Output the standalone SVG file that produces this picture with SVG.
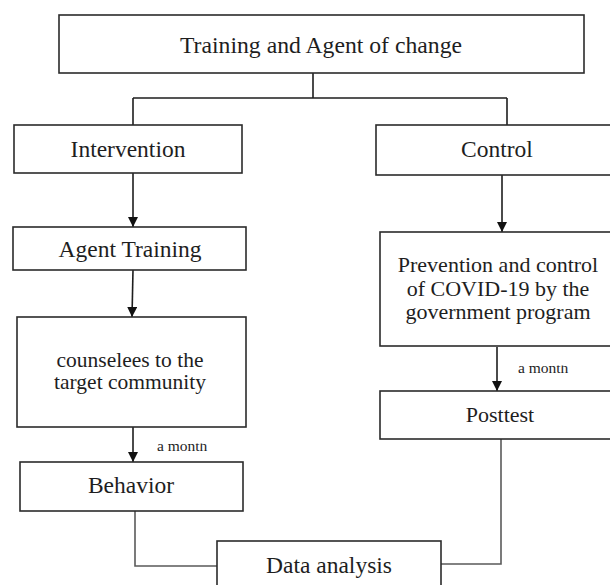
<svg xmlns="http://www.w3.org/2000/svg" width="610" height="585" viewBox="0 0 610 585">
<style>
  .box { fill: #ffffff; stroke: #2b2b2b; stroke-width: 1.6; }
  .t { font-family: "Liberation Serif", "Times New Roman", serif; fill: #1e1e1e; text-anchor: middle; }
  .lbl { font-family: "Liberation Serif", "Times New Roman", serif; fill: #1e1e1e; font-size: 15.5px; }
  .ln { fill: none; stroke: #1e1e1e; stroke-width: 1.6; }
  .ln2 { fill: none; stroke: #5a5a5a; stroke-width: 1.6; }
</style>
<defs>
  <marker id="ah" markerUnits="userSpaceOnUse" markerWidth="11" markerHeight="11" refX="10" refY="5" orient="auto">
    <path d="M0,0 L10,5 L0,10 Z" fill="#111"/>
  </marker>
  <clipPath id="clipL"><rect x="150" y="443.5" width="70" height="15"/></clipPath>
  <clipPath id="clipR"><rect x="510" y="365.5" width="70" height="15"/></clipPath>
</defs>
<rect width="610" height="585" fill="#ffffff"/>

<g id="connectors">
  <path class="ln" d="M313,73 V98 M133,98 H507 M133,98 V125 M507,98 V125"/>
  <line class="ln" x1="133" y1="173" x2="133" y2="227" marker-end="url(#ah)"/>
  <line class="ln" x1="133" y1="270" x2="132" y2="317" marker-end="url(#ah)"/>
  <line class="ln" x1="133" y1="427" x2="133" y2="462" marker-end="url(#ah)"/>
  <line class="ln" x1="502" y1="175" x2="502" y2="232" marker-end="url(#ah)"/>
  <line class="ln" x1="497" y1="347" x2="497" y2="391" marker-end="url(#ah)"/>
  <path class="ln2" d="M135,511 V566 H217"/>
  <path class="ln2" d="M501,439 V564 H441"/>
  <text class="lbl" x="157" y="451" clip-path="url(#clipL)">a month</text>
  <text class="lbl" x="518" y="373" clip-path="url(#clipR)">a month</text>
</g>

<g id="title">
  <rect class="box" x="59" y="15" width="525" height="58"/>
  <text class="t" x="321" y="52.5" font-size="23.7">Training and Agent of change</text>
</g>

<g id="intervention">
  <rect class="box" x="14" y="125" width="228" height="48"/>
  <text class="t" x="128" y="157" font-size="23.5">Intervention</text>
</g>

<g id="control">
  <rect class="box" x="376" y="125" width="240" height="50"/>
  <text class="t" x="497" y="157" font-size="23.5">Control</text>
</g>

<g id="agent-training">
  <rect class="box" x="13" y="227" width="233" height="43"/>
  <text class="t" x="130" y="257" font-size="23.5">Agent Training</text>
</g>

<g id="counselees">
  <rect class="box" x="17" y="317" width="229" height="110"/>
  <text class="t" x="130" y="367" font-size="21.5">counselees to the</text>
  <text class="t" x="130" y="389" font-size="21.5">target community</text>
</g>

<g id="prevention">
  <rect class="box" x="380" y="232" width="236" height="114"/>
  <text class="t" x="498" y="272" font-size="22">Prevention and control</text>
  <text class="t" x="498" y="296" font-size="22">of COVID-19 by the</text>
  <text class="t" x="498" y="319" font-size="22">government program</text>
</g>

<g id="posttest">
  <rect class="box" x="380" y="391" width="236" height="48"/>
  <text class="t" x="500" y="422" font-size="22">Posttest</text>
</g>

<g id="behavior">
  <rect class="box" x="20" y="462" width="223" height="49"/>
  <text class="t" x="131" y="493" font-size="23.5">Behavior</text>
</g>

<g id="data-analysis">
  <rect class="box" x="217" y="541" width="224" height="50"/>
  <text class="t" x="329" y="573" font-size="23.5">Data analysis</text>
</g>
</svg>
